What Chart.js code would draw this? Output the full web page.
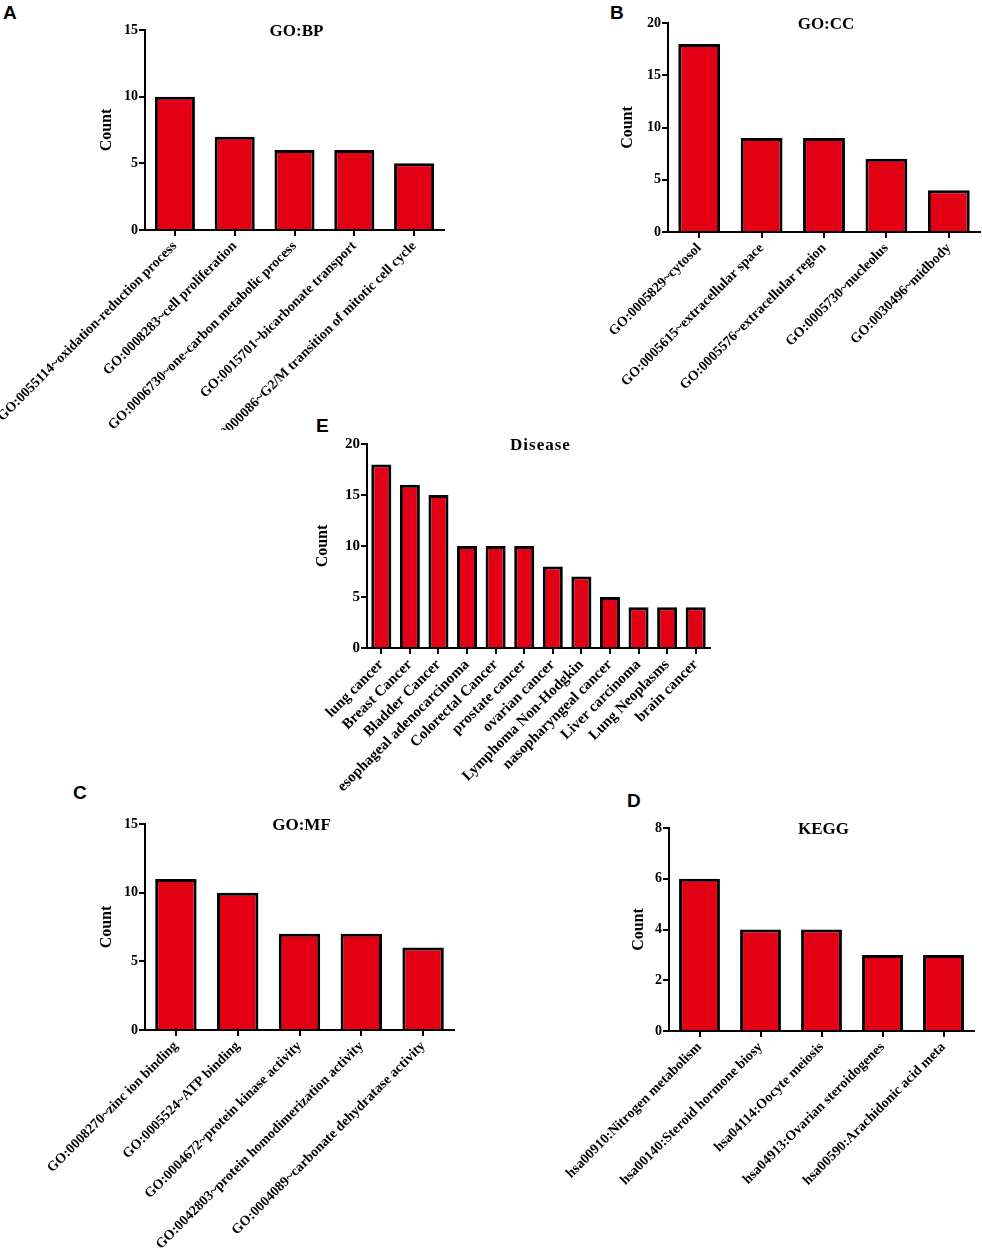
<!DOCTYPE html>
<html>
<head>
<meta charset="utf-8">
<script src="https://cdn.jsdelivr.net/npm/chart.js@4.4.1/dist/chart.umd.min.js"></script>
<style>
    html, body { margin: 0; padding: 0; background: #fff; }
    body { width: 982px; height: 1253px; position: relative; overflow: hidden; }
    .panel { position: absolute; }
    .letter {
        position: absolute;
        font: bold 19px "Liberation Sans", Arial, sans-serif;
        line-height: 1;
        color: #000;
    }
</style>
</head>
<body>
<div class="letter" style="left:3px;top:3px;">A</div>
<div class="letter" style="left:610px;top:3px;">B</div>
<div class="letter" style="left:316px;top:416px;">E</div>
<div class="letter" style="left:73px;top:783px;">C</div>
<div class="letter" style="left:627px;top:791px;">D</div>

<div class="panel" style="left:0;top:0;width:490px;height:430px;"><canvas id="bpChart"></canvas></div>
<div class="panel" style="left:490px;top:0;width:492px;height:430px;"><canvas id="ccChart"></canvas></div>
<div class="panel" style="left:290px;top:420px;width:430px;height:380px;"><canvas id="diseaseChart"></canvas></div>
<div class="panel" style="left:0;top:800px;width:490px;height:453px;"><canvas id="mfChart"></canvas></div>
<div class="panel" style="left:490px;top:800px;width:492px;height:453px;"><canvas id="keggChart"></canvas></div>

<script>
// GO:BP
const bpLabels = [
    'GO:0055114~oxidation-reduction process',
    'GO:0008283~cell proliferation',
    'GO:0006730~one-carbon metabolic process',
    'GO:0015701~bicarbonate transport',
    'GO:0000086~G2/M transition of mitotic cell cycle'
];
const bpCounts = [10, 7, 6, 6, 5];
const bpTicks = { max: 15, step: 5 };

// GO:CC
const ccLabels = [
    'GO:0005829~cytosol',
    'GO:0005615~extracellular space',
    'GO:0005576~extracellular region',
    'GO:0005730~nucleolus',
    'GO:0030496~midbody'
];
const ccCounts = [18, 9, 9, 7, 4];
const ccTicks = { max: 20, step: 5 };

// Disease
const diseaseLabels = [
    'lung cancer', 'Breast Cancer', 'Bladder Cancer', 'esophageal adenocarcinoma',
    'Colorectal Cancer', 'prostate cancer', 'ovarian cancer', 'Lymphoma Non-Hodgkin',
    'nasopharyngeal cancer', 'Liver carcinoma', 'Lung Neoplasms', 'brain cancer'
];
const diseaseCounts = [18, 16, 15, 10, 10, 10, 8, 7, 5, 4, 4, 4];
const diseaseTicks = { max: 20, step: 5 };

// GO:MF
const mfLabels = [
    'GO:0008270~zinc ion binding',
    'GO:0005524~ATP binding',
    'GO:0004672~protein kinase activity',
    'GO:0042803~protein homodimerization activity',
    'GO:0004089~carbonate dehydratase activity'
];
const mfCounts = [11, 10, 7, 7, 6];
const mfTicks = { max: 15, step: 5 };

// KEGG
const keggLabels = [
    'hsa00910:Nitrogen metabolism',
    'hsa00140:Steroid hormone biosy',
    'hsa04114:Oocyte meiosis',
    'hsa04913:Ovarian steroidogenes',
    'hsa00590:Arachidonic acid meta'
];
const keggCounts = [6, 4, 4, 3, 3];
const keggTicks = { max: 8, step: 2 };

const SERIF = '"Liberation Serif", "Times New Roman", serif';
const BAR_RED = '#e40014';

// draws the panel heading centred over the plot area
const panelTitlePlugin = {
    id: 'panelTitle',
    afterDraw(chart, args, opts) {
        if (!opts.text) return;
        const { ctx, chartArea } = chart;
        ctx.save();
        ctx.font = 'bold ' + opts.size + 'px ' + SERIF;
        if (opts.spacing) ctx.letterSpacing = opts.spacing;
        ctx.fillStyle = '#000';
        ctx.textAlign = 'center';
        ctx.textBaseline = 'middle';
        ctx.fillText(opts.text, (chartArea.left + chartArea.right) / 2 + 2, chartArea.top + 2);
        ctx.restore();
    }
};

// box: padding around the plot; yW / xH: fixed axis sizes so plots line up
function makePanel(id, labels, counts, ticks, cfg) {
    const el = document.getElementById(id);
    if (!el) return;
    new Chart(el, {
        type: 'bar',
        data: {
            labels: labels,
            datasets: [{
                data: counts,
                backgroundColor: BAR_RED,
                borderColor: '#000',
                borderWidth: 3,
                barPercentage: cfg.barPct || 0.67,
                categoryPercentage: 1
            }]
        },
        options: {
            responsive: true,
            maintainAspectRatio: false,
            animation: false,
            layout: { padding: cfg.pad },
            plugins: {
                legend: { display: false },
                tooltip: { enabled: false },
                panelTitle: { text: cfg.title, size: 17, spacing: cfg.spacing }
            },
            scales: {
                x: {
                    grid: {
                        drawOnChartArea: false,
                        offset: false,
                        color: '#000',
                        lineWidth: 2,
                        tickLength: 6
                    },
                    border: { color: '#000', width: 2 },
                    ticks: {
                        autoSkip: false,
                        minRotation: 45,
                        maxRotation: 45,
                        padding: 2,
                        color: '#000',
                        font: { family: SERIF, size: cfg.xFont || 14, weight: 'bold' }
                    },
                    afterFit(scale) {
                        scale.height = cfg.xH;
                        scale.paddingLeft = 0;
                        scale.paddingRight = 0;
                    }
                },
                y: {
                    min: 0,
                    max: ticks.max,
                    grid: {
                        drawOnChartArea: false,
                        color: '#000',
                        lineWidth: 2,
                        tickLength: 6
                    },
                    border: { color: '#000', width: 2 },
                    ticks: {
                        stepSize: ticks.step,
                        padding: 1,
                        color: '#000',
                        font: { family: SERIF, size: cfg.yFont || 14, weight: 'bold' }
                    },
                    title: {
                        display: true,
                        text: 'Count',
                        color: '#000',
                        padding: 0,
                        font: { family: SERIF, size: 16, weight: 'bold' }
                    },
                    afterFit(scale) {
                        scale.width = cfg.yW;
                    }
                }
            }
        },
        plugins: [panelTitlePlugin]
    });
}

document.addEventListener('DOMContentLoaded', function () {
    makePanel('bpChart', bpLabels, bpCounts, bpTicks, {
        title: 'GO:BP', pad: { left: 97, top: 30, right: 46, bottom: 0 }, yW: 48, xH: 200
    });
    makePanel('ccChart', ccLabels, ccCounts, ccTicks, {
        title: 'GO:CC', pad: { left: 128, top: 23, right: 2, bottom: 0 }, yW: 50, xH: 198
    });
    makePanel('diseaseChart', diseaseLabels, diseaseCounts, diseaseTicks, {
        title: 'Disease', spacing: '1px', barPct: 0.7, xFont: 15, yFont: 15,
        pad: { left: 23, top: 24, right: 10, bottom: 0 }, yW: 54, xH: 152
    });
    makePanel('mfChart', mfLabels, mfCounts, mfTicks, {
        title: 'GO:MF', pad: { left: 97, top: 24, right: 36, bottom: 0 }, yW: 48, xH: 223
    });
    makePanel('keggChart', keggLabels, keggCounts, keggTicks, {
        title: 'KEGG', pad: { left: 139, top: 28, right: 8, bottom: 0 }, yW: 40, xH: 222
    });
});
</script>
</body>
</html>
